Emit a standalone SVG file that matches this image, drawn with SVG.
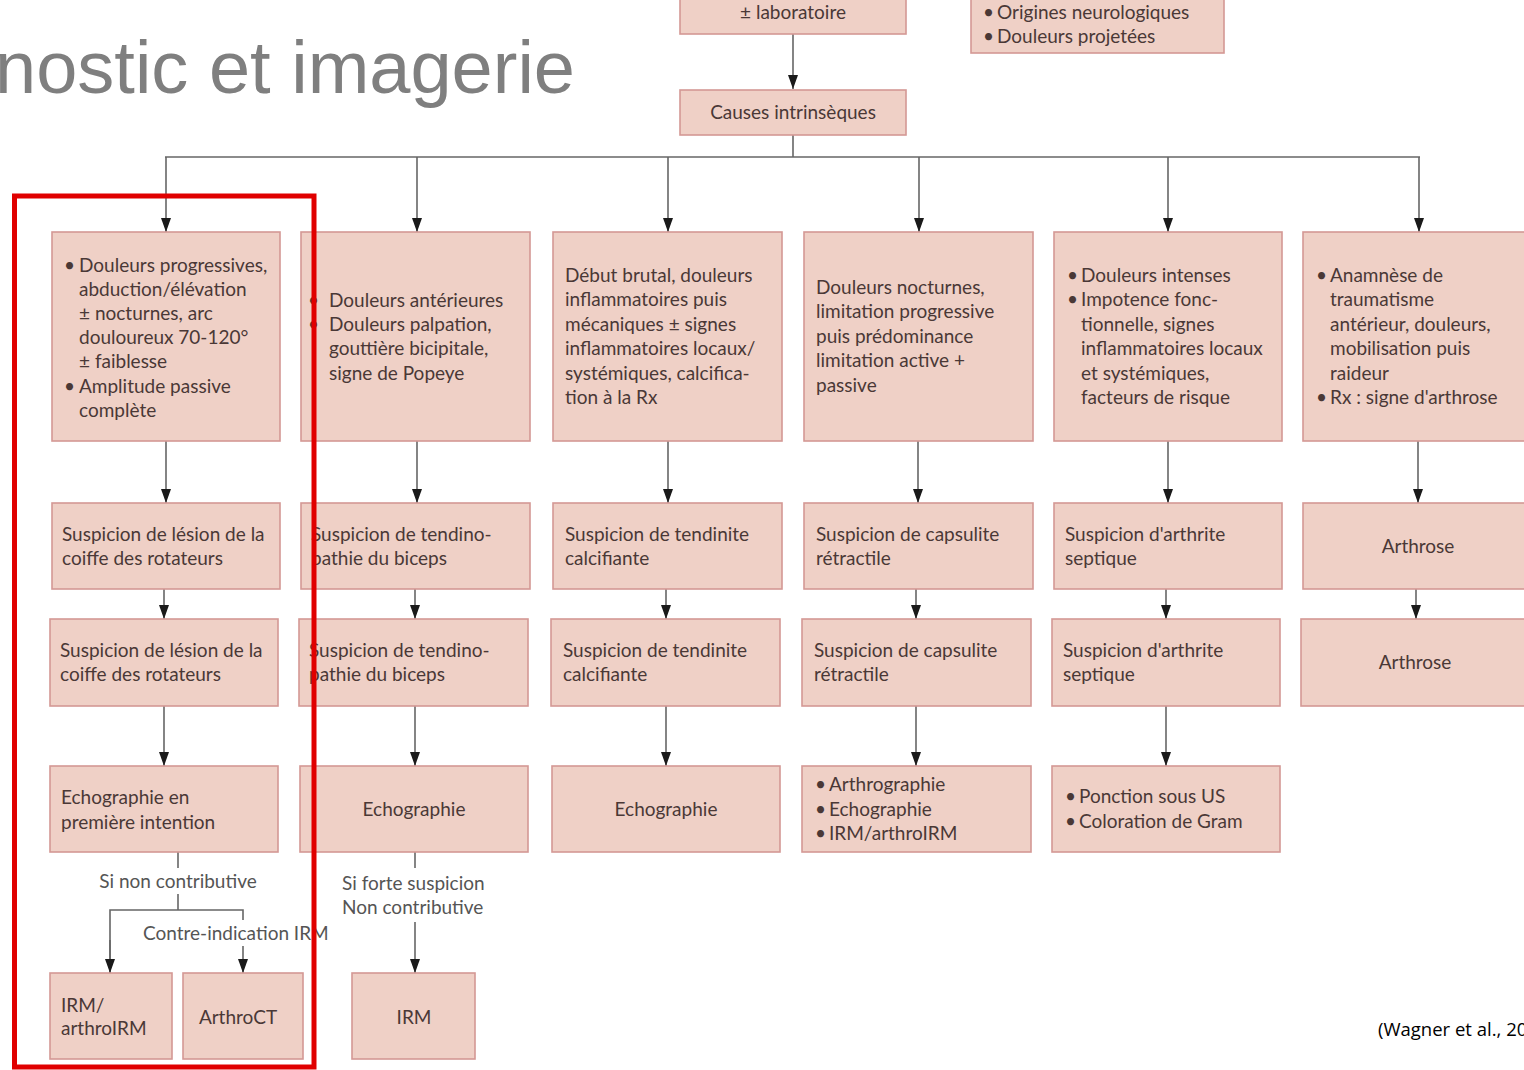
<svg xmlns="http://www.w3.org/2000/svg" width="1524" height="1070" viewBox="0 0 1524 1070">
  <style>
    .box { fill: #efd0c6; stroke: #d49894; stroke-width: 1.6; }
    .t { font-family: Lato, "Open Sans", sans-serif; font-size: 19px; fill: #4a3836; }
    .c { text-anchor: middle; }
    .lbl { font-family: Lato, "Open Sans", sans-serif; font-size: 19px; fill: #555; }
    .wire { fill: none; stroke: #666; stroke-width: 1.6; }
  </style>
  <defs>
    <marker id="ahd" viewBox="0 0 10 14" refX="5" refY="14" markerWidth="10" markerHeight="14" markerUnits="userSpaceOnUse" orient="0">
      <path d="M0,0 L10,0 L5,14 Z" fill="#1a1a1a"/>
    </marker>
  </defs>

  <rect x="0" y="0" width="1524" height="1070" fill="#ffffff"/>

  <!-- slide title -->
  <text x="575" y="93" text-anchor="end" font-family="'Liberation Sans', Arial, sans-serif" font-size="74" fill="#7f7f7f">nostic et imagerie</text>

  <!-- connectors -->
  <g id="connectors">
    <line class="wire" x1="793" y1="34" x2="793" y2="89" marker-end="url(#ahd)"/>
    <line class="wire" x1="793" y1="135" x2="793" y2="157"/>
    <line class="wire" x1="165" y1="157" x2="1420" y2="157"/>
    <line class="wire" x1="166" y1="157" x2="166" y2="232" marker-end="url(#ahd)"/>
    <line class="wire" x1="417" y1="157" x2="417" y2="232" marker-end="url(#ahd)"/>
    <line class="wire" x1="668" y1="157" x2="668" y2="232" marker-end="url(#ahd)"/>
    <line class="wire" x1="919" y1="157" x2="919" y2="232" marker-end="url(#ahd)"/>
    <line class="wire" x1="1168" y1="157" x2="1168" y2="232" marker-end="url(#ahd)"/>
    <line class="wire" x1="1419" y1="157" x2="1419" y2="232" marker-end="url(#ahd)"/>

    <line class="wire" x1="166" y1="441" x2="166" y2="503" marker-end="url(#ahd)"/>
    <line class="wire" x1="417" y1="441" x2="417" y2="503" marker-end="url(#ahd)"/>
    <line class="wire" x1="668" y1="441" x2="668" y2="503" marker-end="url(#ahd)"/>
    <line class="wire" x1="918" y1="441" x2="918" y2="503" marker-end="url(#ahd)"/>
    <line class="wire" x1="1168" y1="441" x2="1168" y2="503" marker-end="url(#ahd)"/>
    <line class="wire" x1="1418" y1="441" x2="1418" y2="503" marker-end="url(#ahd)"/>

    <line class="wire" x1="164" y1="589" x2="164" y2="619" marker-end="url(#ahd)"/>
    <line class="wire" x1="415" y1="589" x2="415" y2="619" marker-end="url(#ahd)"/>
    <line class="wire" x1="666" y1="589" x2="666" y2="619" marker-end="url(#ahd)"/>
    <line class="wire" x1="916" y1="589" x2="916" y2="619" marker-end="url(#ahd)"/>
    <line class="wire" x1="1166" y1="589" x2="1166" y2="619" marker-end="url(#ahd)"/>
    <line class="wire" x1="1416" y1="589" x2="1416" y2="619" marker-end="url(#ahd)"/>

    <line class="wire" x1="164" y1="706" x2="164" y2="766" marker-end="url(#ahd)"/>
    <line class="wire" x1="415" y1="706" x2="415" y2="766" marker-end="url(#ahd)"/>
    <line class="wire" x1="666" y1="706" x2="666" y2="766" marker-end="url(#ahd)"/>
    <line class="wire" x1="916" y1="706" x2="916" y2="766" marker-end="url(#ahd)"/>
    <line class="wire" x1="1166" y1="706" x2="1166" y2="766" marker-end="url(#ahd)"/>

    <!-- rotator cuff branch -->
    <line class="wire" x1="178" y1="852" x2="178" y2="868"/>
    <line class="wire" x1="178" y1="894" x2="178" y2="910"/>
    <polyline class="wire" points="110,973 110,910 243,910 243,920"/>
    <line class="wire" x1="110" y1="940" x2="110" y2="973" marker-end="url(#ahd)"/>
    <line class="wire" x1="243" y1="946" x2="243" y2="973" marker-end="url(#ahd)"/>
    <text class="lbl c" x="178" y="888">Si non contributive</text>
    <text class="lbl" x="143" y="940">Contre-indication IRM</text>

    <!-- biceps branch -->
    <line class="wire" x1="415" y1="852" x2="415" y2="868"/>
    <line class="wire" x1="415" y1="922" x2="415" y2="973" marker-end="url(#ahd)"/>
    <text class="lbl" x="342" y="890">Si forte suspicion</text>
    <text class="lbl" x="342" y="914">Non contributive</text>
  </g>

  <!-- top-level nodes -->
  <g id="n-labo">
    <rect class="box" x="680" y="-10" width="226" height="44"/>
    <text class="t c" x="793" y="19">± laboratoire</text>
  </g>
  <g id="n-extrinseques">
    <rect class="box" x="971" y="-10" width="253" height="63"/>
    <text class="t" x="983" y="19">•<tspan x="997">Origines neurologiques</tspan></text>
    <text class="t" x="983" y="43">•<tspan x="997">Douleurs projetées</tspan></text>
  </g>
  <g id="n-intrinseques">
    <rect class="box" x="680" y="90" width="226" height="45"/>
    <text class="t c" x="793" y="119">Causes intrinsèques</text>
  </g>

  <!-- clinical presentation row -->
  <g id="n-coiffe-clin">
    <rect class="box" x="52" y="232" width="228" height="209"/>
    <text class="t" x="64" y="272">•<tspan x="79">Douleurs progressives,</tspan></text>
    <text class="t" x="79" y="296">abduction/élévation</text>
    <text class="t" x="79" y="320">± nocturnes, arc</text>
    <text class="t" x="79" y="344">douloureux 70-120°</text>
    <text class="t" x="79" y="368">± faiblesse</text>
    <text class="t" x="64" y="393">•<tspan x="79">Amplitude passive</tspan></text>
    <text class="t" x="79" y="417">complète</text>
  </g>
  <g id="n-biceps-clin">
    <rect class="box" x="301" y="232" width="229" height="209"/>
    <text class="t" x="308" y="307">•<tspan x="329">Douleurs antérieures</tspan></text>
    <text class="t" x="308" y="331">•<tspan x="329">Douleurs palpation,</tspan></text>
    <text class="t" x="329" y="355">gouttière bicipitale,</text>
    <text class="t" x="329" y="380">signe de Popeye</text>
  </g>
  <g id="n-calc-clin">
    <rect class="box" x="553" y="232" width="229" height="209"/>
    <text class="t" x="565" y="282">Début brutal, douleurs</text>
    <text class="t" x="565" y="306">inflammatoires puis</text>
    <text class="t" x="565" y="331">mécaniques ± signes</text>
    <text class="t" x="565" y="355">inflammatoires locaux/</text>
    <text class="t" x="565" y="380">systémiques, calcifica-</text>
    <text class="t" x="565" y="404">tion à la Rx</text>
  </g>
  <g id="n-capsulite-clin">
    <rect class="box" x="804" y="232" width="229" height="209"/>
    <text class="t" x="816" y="294">Douleurs nocturnes,</text>
    <text class="t" x="816" y="318">limitation progressive</text>
    <text class="t" x="816" y="343">puis prédominance</text>
    <text class="t" x="816" y="367">limitation active +</text>
    <text class="t" x="816" y="392">passive</text>
  </g>
  <g id="n-arthrite-clin">
    <rect class="box" x="1054" y="232" width="228" height="209"/>
    <text class="t" x="1067" y="282">•<tspan x="1081">Douleurs intenses</tspan></text>
    <text class="t" x="1067" y="306">•<tspan x="1081">Impotence fonc-</tspan></text>
    <text class="t" x="1081" y="331">tionnelle, signes</text>
    <text class="t" x="1081" y="355">inflammatoires locaux</text>
    <text class="t" x="1081" y="380">et systémiques,</text>
    <text class="t" x="1081" y="404">facteurs de risque</text>
  </g>
  <g id="n-arthrose-clin">
    <rect class="box" x="1303" y="232" width="229" height="209"/>
    <text class="t" x="1316" y="282">•<tspan x="1330">Anamnèse de</tspan></text>
    <text class="t" x="1330" y="306">traumatisme</text>
    <text class="t" x="1330" y="331">antérieur, douleurs,</text>
    <text class="t" x="1330" y="355">mobilisation puis</text>
    <text class="t" x="1330" y="380">raideur</text>
    <text class="t" x="1316" y="404">•<tspan x="1330">Rx : signe d'arthrose</tspan></text>
  </g>

  <!-- suspicion row -->
  <g id="n-coiffe-s1">
    <rect class="box" x="52" y="503" width="228" height="86"/>
    <text class="t" x="62" y="541">Suspicion de lésion de la</text>
    <text class="t" x="62" y="565">coiffe des rotateurs</text>
  </g>
  <g id="n-biceps-s1">
    <rect class="box" x="301" y="503" width="229" height="86"/>
    <text class="t" x="311" y="541">Suspicion de tendino-</text>
    <text class="t" x="311" y="565">pathie du biceps</text>
  </g>
  <g id="n-calc-s1">
    <rect class="box" x="553" y="503" width="229" height="86"/>
    <text class="t" x="565" y="541">Suspicion de tendinite</text>
    <text class="t" x="565" y="565">calcifiante</text>
  </g>
  <g id="n-capsulite-s1">
    <rect class="box" x="804" y="503" width="229" height="86"/>
    <text class="t" x="816" y="541">Suspicion de capsulite</text>
    <text class="t" x="816" y="565">rétractile</text>
  </g>
  <g id="n-arthrite-s1">
    <rect class="box" x="1054" y="503" width="228" height="86"/>
    <text class="t" x="1065" y="541">Suspicion d'arthrite</text>
    <text class="t" x="1065" y="565">septique</text>
  </g>
  <g id="n-arthrose-s1">
    <rect class="box" x="1303" y="503" width="229" height="86"/>
    <text class="t c" x="1418" y="553">Arthrose</text>
  </g>

  <!-- repeated suspicion row -->
  <g id="n-coiffe-s2">
    <rect class="box" x="50" y="619" width="228" height="87"/>
    <text class="t" x="60" y="657">Suspicion de lésion de la</text>
    <text class="t" x="60" y="681">coiffe des rotateurs</text>
  </g>
  <g id="n-biceps-s2">
    <rect class="box" x="299" y="619" width="229" height="87"/>
    <text class="t" x="309" y="657">Suspicion de tendino-</text>
    <text class="t" x="309" y="681">pathie du biceps</text>
  </g>
  <g id="n-calc-s2">
    <rect class="box" x="551" y="619" width="229" height="87"/>
    <text class="t" x="563" y="657">Suspicion de tendinite</text>
    <text class="t" x="563" y="681">calcifiante</text>
  </g>
  <g id="n-capsulite-s2">
    <rect class="box" x="802" y="619" width="229" height="87"/>
    <text class="t" x="814" y="657">Suspicion de capsulite</text>
    <text class="t" x="814" y="681">rétractile</text>
  </g>
  <g id="n-arthrite-s2">
    <rect class="box" x="1052" y="619" width="228" height="87"/>
    <text class="t" x="1063" y="657">Suspicion d'arthrite</text>
    <text class="t" x="1063" y="681">septique</text>
  </g>
  <g id="n-arthrose-s2">
    <rect class="box" x="1301" y="619" width="229" height="87"/>
    <text class="t c" x="1415" y="669">Arthrose</text>
  </g>

  <!-- imaging row -->
  <g id="n-coiffe-img">
    <rect class="box" x="50" y="766" width="228" height="86"/>
    <text class="t" x="61" y="804">Echographie en</text>
    <text class="t" x="61" y="829">première intention</text>
  </g>
  <g id="n-biceps-img">
    <rect class="box" x="300" y="766" width="228" height="86"/>
    <text class="t c" x="414" y="816">Echographie</text>
  </g>
  <g id="n-calc-img">
    <rect class="box" x="552" y="766" width="228" height="86"/>
    <text class="t c" x="666" y="816">Echographie</text>
  </g>
  <g id="n-capsulite-img">
    <rect class="box" x="802" y="766" width="229" height="86"/>
    <text class="t" x="815" y="791">•<tspan x="829">Arthrographie</tspan></text>
    <text class="t" x="815" y="816">•<tspan x="829">Echographie</tspan></text>
    <text class="t" x="815" y="840">•<tspan x="829">IRM/arthroIRM</tspan></text>
  </g>
  <g id="n-arthrite-img">
    <rect class="box" x="1052" y="766" width="228" height="86"/>
    <text class="t" x="1065" y="803">•<tspan x="1079">Ponction sous US</tspan></text>
    <text class="t" x="1065" y="828">•<tspan x="1079">Coloration de Gram</tspan></text>
  </g>

  <!-- second-line imaging -->
  <g id="n-irm-arthroirm">
    <rect class="box" x="50" y="973" width="122" height="86"/>
    <text class="t" x="61" y="1012">IRM/</text>
    <text class="t" x="61" y="1035">arthroIRM</text>
  </g>
  <g id="n-arthroct">
    <rect class="box" x="183" y="973" width="120" height="86"/>
    <text class="t c" x="238" y="1024">ArthroCT</text>
  </g>
  <g id="n-irm">
    <rect class="box" x="352" y="973" width="123" height="86"/>
    <text class="t c" x="414" y="1024">IRM</text>
  </g>

  <!-- highlight frame around the rotator cuff pathway -->
  <rect x="14.5" y="196" width="299.5" height="871" fill="none" stroke="#e00000" stroke-width="5"/>

  <text x="1378" y="1036" font-family="'Open Sans', 'Liberation Sans', sans-serif" font-size="18.5" fill="#000">(Wagner et al., 20</text>
</svg>
